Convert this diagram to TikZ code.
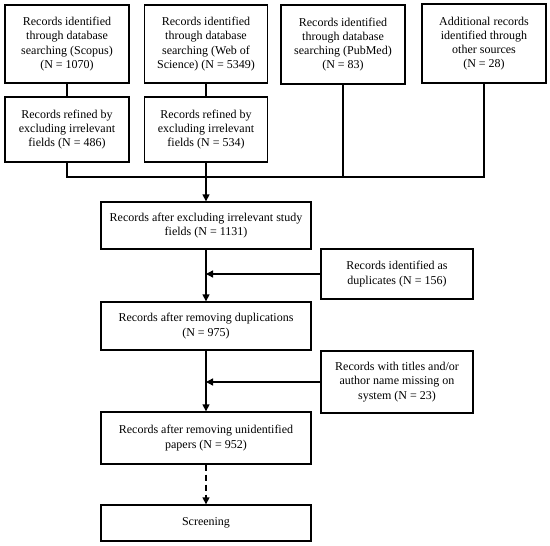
\documentclass[tikz,border=0pt]{standalone}
\usepackage{fontspec}
\setmainfont{Liberation Serif}
\usetikzlibrary{arrows.meta}
\begin{document}
\begin{tikzpicture}[x=1pt,y=-1pt,
  box/.style={draw,line width=1.3pt,align=center,inner sep=2pt,font=\fontsize{12}{14.2}\selectfont},
  conn/.style={line width=1.3pt},
  arr/.style={line width=1.3pt,-{Triangle[length=7pt,width=7pt]}}]
\useasboundingbox (0,0) rectangle (550,546);
\node[box,minimum width=124pt,minimum height=78pt] (b1) at (67,44) {Records identified\\through database\\searching (Scopus)\\(N = 1070)};
\node[box,minimum width=123pt,minimum height=78pt] (b2) at (206,44) {Records identified\\through database\\searching (Web of\\Science) (N = 5349)};
\node[box,minimum width=124pt,minimum height=79pt] (b3) at (343,44.5) {Records identified\\through database\\searching (PubMed)\\(N = 83)};
\node[box,minimum width=124pt,minimum height=79pt] (b4) at (484,43.5) {Additional records\\identified through\\other sources\\(N = 28)};
\node[box,minimum width=124pt,minimum height=65pt] (b5) at (67,129.5) {Records refined by\\excluding irrelevant\\fields (N = 486)};
\node[box,minimum width=123pt,minimum height=65pt] (b6) at (206,129.5) {Records refined by\\excluding irrelevant\\fields (N = 534)};
\node[box,minimum width=210pt,minimum height=47pt] (b7) at (206,225.5) {Records after excluding irrelevant study\\fields (N = 1131)};
\node[box,minimum width=152pt,minimum height=50pt] (dup) at (397,274) {Records identified as\\duplicates (N = 156)};
\node[box,minimum width=210pt,minimum height=48pt] (b8) at (206,326) {Records after removing duplications\\(N = 975)};
\node[box,minimum width=152pt,minimum height=62pt] (miss) at (397,382) {Records with titles and/or\\author name missing on\\system (N = 23)};
\node[box,minimum width=210pt,minimum height=52pt] (b9) at (206,438) {Records after removing unidentified\\papers (N = 952)};
\node[box,minimum width=210pt,minimum height=36pt] (scr) at (206,523) {Screening};
\coordinate (j) at (206,177);
\draw[conn] (b1.south) -- (b5.north);
\draw[conn] (b2.south) -- (b6.north);
\draw[conn] (b5.south) |- (j) -| (b4.south);
\draw[conn] (b3.south) -- (b3.south |- j);
\draw[arr] (b6.south) -- (b7.north);
\draw[arr] (b7.south) -- (b8.north);
\draw[arr] (dup.west) -- (dup.west -| b7.south);
\draw[arr] (b8.south) -- (b9.north);
\draw[arr] (miss.west) -- (miss.west -| b8.south);
\draw[arr,dashed,dash pattern=on 6pt off 4pt] (b9.south) -- (scr.north);
\end{tikzpicture}
\end{document}
